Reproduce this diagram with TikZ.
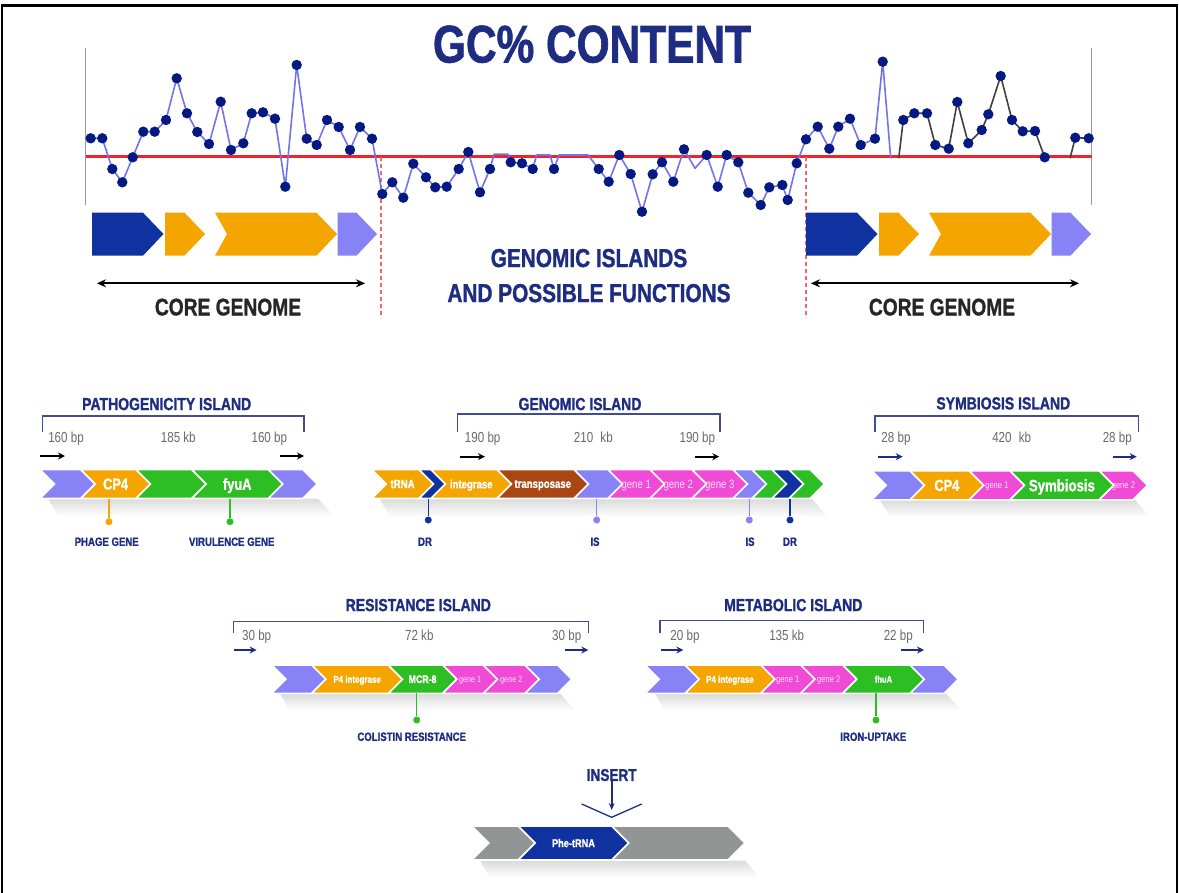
\documentclass[tikz,border=0pt]{standalone}
\usepackage{fontspec}
\setmainfont{Liberation Sans}[FakeStretch=0.8, BoldFeatures={FakeBold=1.2}]
\usetikzlibrary{arrows.meta}

\definecolor{navy}{RGB}{30,45,130}
\definecolor{deepblue}{RGB}{15,50,160}
\definecolor{amber}{RGB}{245,165,0}
\definecolor{lilac}{RGB}{135,130,245}
\definecolor{leaf}{RGB}{45,190,35}
\definecolor{pink}{RGB}{240,75,215}
\definecolor{rust}{RGB}{170,70,20}
\definecolor{slate}{RGB}{145,150,148}
\definecolor{gcred}{RGB}{240,35,40}
\definecolor{gcline}{RGB}{115,115,235}
\definecolor{gcdot}{RGB}{5,25,130}
\definecolor{bpgray}{RGB}{105,105,105}

\newcommand{\fsz}[1]{\fontsize{#1}{#1}\selectfont}

\tikzset{
  txt/.style={inner sep=0pt, text depth=0pt},
  genetxt/.style={txt, text=white, font=\bfseries\fsz{12}},
  genelight/.style={text=white!82!pink, font=\fsz{#1}},
  islandtitle/.style={txt, text=navy, font=\bfseries\fsz{17.5}},
  bptxt/.style={txt, text=bpgray, font=\fsz{14.5}},
  pintxt/.style={txt, text=navy, font=\bfseries\fsz{12}},
  bracket/.style={navy!85, line width=1.3pt},
  repeatarrow/.style={-{Stealth[length=7pt,width=7pt]}, line width=2pt},
  pinline/.style={#1, line width=1.5pt},
  pindot/.style={circle, fill=#1, inner sep=0pt, minimum size=7pt},
  shadowband/.style={top color=black!14, bottom color=white},
}

% half height of the gene arrows in the current row
\def\hh{14.5}
% gene arrow: [text style] name, colour, left x, body end x, mid y, label
\newcommand{\gene}[7][]{%
  \fill[#3, draw=white, line width=1.6pt] (#4,#6-\hh) -- (#5,#6-\hh) -- (#5+\hh,#6)
    -- (#5,#6+\hh) -- (#4,#6+\hh) -- (#4+\hh,#6) -- cycle;
  \node[genetxt,#1] (#2) at ({(#4+#5+\hh)/2},#6) {#7};}

\begin{document}
\begin{tikzpicture}[x=1pt,y=-1pt]
\useasboundingbox (0,0) rectangle (1179,893);
% frame
\draw[line width=2.5pt] (2,893) -- (2,5.5) -- (1177,5.5) -- (1177,893);

% GC plot
\node[txt, text=navy, font=\bfseries\fsz{53}] (gc-title) at (592,44) {GC\% CONTENT};
\draw[black!40, line width=1.5pt] (85.7,48) -- (85.7,205);
\draw[black!40, line width=1.5pt] (1091.7,48) -- (1091.7,205);
\draw[gcred, line width=3pt] (85.7,157) -- (1091.7,157);
\draw[gcred!70!white, line width=1.2pt, dash pattern=on 4pt off 3pt] (381,157) -- (381,318);
\draw[gcred!70!white, line width=1.2pt, dash pattern=on 4pt off 3pt] (806,157) -- (806,318);

\draw[gcline, line width=1.6pt, line join=round] plot coordinates {
  (90.7,138.3) (102.3,138.3) (112.3,169) (122.3,182.3) (132.7,157.3) (143.3,131.7)
  (154.7,131.7) (166,120) (176.7,78.3) (187,113.3) (197.3,132) (209,144) (220.7,101.7)
  (231,150) (243.3,143.3) (251.7,113.3) (263,112.3) (275,118.7) (285.3,186.7) (296.7,65)
  (306.7,138.7) (316.7,145) (327,120) (338.7,127) (350,150) (360,127) (372,138.7)
  (382.3,194) (392.3,182.3) (403.3,197.7) (413.3,163.7) (426,177.3) (435.3,187.3)
  (446.7,186.7) (458.7,169) (468.3,152) (480,192.3) (490,169) (494,154.3) (508.3,154.3)
  (510.7,162.3) (522,163.3) (532.7,169) (536.7,155) (550,155) (554,169) (559,155)
  (588,155) (598.7,169) (608.7,181.7) (619.3,155) (630.7,174) (642,211.7) (652.7,174.3)
  (662,162.3) (673.3,181.7) (684,149.3) (695,168.3) (706.7,155) (717.7,186.7) (726.7,155)
  (738.3,162.3) (748.3,192.7) (760.7,205) (769.3,187.3) (782.3,185) (787.7,200)
  (796.7,163.3) (806,139.3) (817.7,126.7) (829.3,148.7) (838.3,126.7) (850,118.7)
  (860.7,145) (875,138.7) (882.7,61.7) (890.7,158.3)};
\draw[black!75, line width=1.6pt, line join=round] plot coordinates {
  (898.7,158.3) (903.3,120) (914.3,113.3) (927,113.3) (935.3,145) (948.7,148.7)
  (957.3,102) (968.3,143.3) (981.7,130) (988.3,114.3) (1000.7,76) (1012,120)
  (1022.7,131.3) (1035,131) (1044.7,157.3)};
\draw[black!75, line width=1.6pt, line join=round] plot coordinates {
  (1070,158.3) (1075.3,137.7) (1088.7,138.3)};

\foreach \x/\y in {90.7/138.3, 102.3/138.3, 112.3/169, 122.3/182.3, 132.7/157.3,
  143.3/131.7, 154.7/131.7, 166/120, 176.7/78.3, 187/113.3, 197.3/132, 209/144,
  220.7/101.7, 231/150, 243.3/143.3, 251.7/113.3, 263/112.3, 275/118.7, 285.3/186.7,
  296.7/65, 306.7/138.7, 316.7/145, 327/120, 338.7/127, 350/150, 360/127, 372/138.7,
  382.3/194, 392.3/182.3, 403.3/197.7, 413.3/163.7, 426/177.3, 435.3/187.3,
  446.7/186.7, 458.7/169, 468.3/152, 480/192.3, 490/169, 510.7/162.3, 522/163.3,
  532.7/169, 554/169, 598.7/169, 608.7/181.7, 619.3/155, 630.7/174, 642/211.7,
  652.7/174.3, 662/162.3, 673.3/181.7, 684/149.3, 706.7/155, 717.7/186.7, 726.7/155,
  738.3/162.3, 748.3/192.7, 760.7/205, 769.3/187.3, 782.3/185, 787.7/200, 796.7/163.3,
  806/139.3, 817.7/126.7, 829.3/148.7, 838.3/126.7, 850/118.7, 860.7/145, 875/138.7,
  882.7/61.7, 903.3/120, 914.3/113.3, 927/113.3, 935.3/145, 948.7/148.7, 957.3/102,
  968.3/143.3, 981.7/130, 988.3/114.3, 1000.7/76, 1012/120, 1022.7/131.3, 1035/131,
  1044.7/157.3, 1075.3/137.7, 1088.7/138.3}
  \fill[gcdot] (\x,\y) circle (5.2);

% core genome on both sides
\foreach \dx/\side in {0/left,714/right}{
  \begin{scope}[xshift=\dx pt]
    \fill[deepblue] (92,212.7) -- (143,212.7) -- (163.5,234) -- (143,255.7) -- (92,255.7) -- cycle;
    \fill[amber] (165,212.7) -- (184.5,212.7) -- (205,234) -- (184.5,255.7) -- (165,255.7) -- cycle;
    \fill[amber] (215,212.7) -- (316.5,212.7) -- (337,234) -- (316.5,255.7) -- (215,255.7) -- (227,234) -- cycle;
    \fill[lilac] (337.5,212.7) -- (356.5,212.7) -- (377,234) -- (356.5,255.7) -- (337.5,255.7) -- cycle;
    \coordinate (core-\side-a) at (97,283.3);
    \coordinate (core-\side-b) at (365,283.3);
    \draw[{Stealth[length=9pt,width=8pt]}-{Stealth[length=9pt,width=8pt]}, line width=1.6pt] (core-\side-a) -- (core-\side-b);
    \node[txt, text=black!85, font=\bfseries\fsz{24}] (core-\side) at (228,307) {CORE GENOME};
  \end{scope}
}
\node[txt, text=navy, font=\bfseries\fsz{26}] (gi-head) at (589,258) {GENOMIC ISLANDS};
\node[txt, text=navy, font=\bfseries\fsz{26}] (gi-sub) at (589,293) {AND POSSIBLE FUNCTIONS};

% pathogenicity island
\node[islandtitle] (path-title) at (166.7,404) {PATHOGENICITY ISLAND};
\draw[bracket] (42.3,431.7) -- (42.3,416) -- (304,416) -- (304,431.7);
\node[bptxt] (path-l) at (66,437.7) {160 bp};
\node[bptxt] (path-m) at (178.3,437.7) {185 kb};
\node[bptxt] (path-r) at (269.3,437.7) {160 bp};
\draw[repeatarrow] (40,456) -- (65,456);
\draw[repeatarrow] (280,456) -- (304,456);
\shade[shadowband] (48,498.5) -- (318,498.5) -- (334,516) -- (58,516) -- cycle;
\def\hh{14.5}
\gene{path-1}{lilac}{40}{80.7}{484}{}
\gene[font=\bfseries\fsz{16}]{path-cp4}{amber}{80.7}{136}{484}{CP4}
\gene{path-3}{leaf}{136}{191.7}{484}{}
\gene[font=\bfseries\fsz{16}]{path-fyua}{leaf}{191.7}{268.3}{484}{fyuA}
\gene{path-5}{lilac}{268.3}{302.7}{484}{}

% genomic island
\node[islandtitle] (gen-title) at (580,404) {GENOMIC ISLAND};
\draw[bracket] (457.3,431.7) -- (457.3,414) -- (720,414) -- (720,431.7);
\node[bptxt] (gen-l) at (482.7,437.7) {190 bp};
\node[bptxt] (gen-m) at (593.3,437.7) {210\enspace kb};
\node[bptxt] (gen-r) at (697.3,437.7) {190 bp};
\draw[repeatarrow] (460,456.7) -- (485,456.7);
\draw[repeatarrow] (695,456.7) -- (719.3,456.7);
\shade[shadowband] (380,499) -- (812,499) -- (828,517) -- (390,517) -- cycle;
\gene{gen-trna}{amber}{371.7}{419}{484}{tRNA}
\gene{gen-2}{deepblue}{419}{431}{484}{}
\gene{gen-int}{amber}{431}{497}{484}{integrase}
\gene{gen-tra}{rust}{497}{574}{484}{transposase}
\gene{gen-5}{lilac}{574}{608}{484}{}
\gene[genelight=12]{gen-g1}{pink}{608}{650}{484}{gene 1}
\gene[genelight=12]{gen-g2}{pink}{650}{692}{484}{gene 2}
\gene[genelight=12]{gen-g3}{pink}{692}{733}{484}{gene 3}
\gene{gen-9}{lilac}{733}{752}{484}{}
\gene{gen-10}{leaf}{752}{772}{484}{}
\gene{gen-11}{deepblue}{772}{789}{484}{}
\gene{gen-12}{leaf}{789}{810}{484}{}

% symbiosis island
\node[islandtitle] (sym-title) at (1003.3,403.3) {SYMBIOSIS ISLAND};
\draw[bracket] (875,431.7) -- (875,416) -- (1138.3,416) -- (1138.3,431.7);
\node[bptxt] (sym-l) at (896,437.7) {28 bp};
\node[bptxt] (sym-m) at (1011.7,437.7) {420\enspace kb};
\node[bptxt] (sym-r) at (1117.3,437.7) {28 bp};
\draw[repeatarrow, navy] (878.3,456.7) -- (902.7,456.7);
\draw[repeatarrow, navy] (1113.3,456.7) -- (1136.7,456.7);
\shade[shadowband] (880,500) -- (1135,500) -- (1150,517) -- (890,517) -- cycle;
\gene{sym-1}{lilac}{871.7}{910}{485.3}{}
\gene[font=\bfseries\fsz{16}]{sym-cp4}{amber}{910}{969.3}{485.3}{CP4}
\gene[genelight=9.5]{sym-g1}{pink}{969.3}{1010}{485.3}{gene 1}
\gene[font=\bfseries\fsz{16.5}]{sym-sym}{leaf}{1010}{1099.3}{485.3}{Symbiosis}
\gene[genelight=9.5]{sym-g2}{pink}{1099.3}{1133}{485.3}{gene 2}

% resistance island
\node[islandtitle] (res-title) at (418.3,605) {RESISTANCE ISLAND};
\draw[bracket] (233.3,633.3) -- (233.3,621.7) -- (588.3,621.7) -- (588.3,633.3);
\node[bptxt] (res-l) at (256.7,635) {30 bp};
\node[bptxt] (res-m) at (419.3,635) {72 kb};
\node[bptxt] (res-r) at (566.7,635) {30 bp};
\draw[repeatarrow, navy] (234,650) -- (256.7,650);
\draw[repeatarrow, navy] (565,650) -- (588.3,650);
\shade[shadowband] (280,693.5) -- (560,693.5) -- (576,711) -- (290,711) -- cycle;
\def\hh{14.2}
\gene{res-1}{lilac}{271.7}{311.7}{679.2}{}
\gene[font=\bfseries\fsz{10}]{res-p4}{amber}{311.7}{388.3}{679.2}{P4 integrase}
\gene[font=\bfseries\fsz{11}]{res-mcr}{leaf}{388.3}{442.7}{679.2}{MCR-8}
\gene[genelight=9]{res-g1}{pink}{442.7}{483.3}{679.2}{gene 1}
\gene[genelight=9]{res-g2}{pink}{483.3}{525}{679.2}{gene 2}
\gene{res-6}{lilac}{525}{557.5}{679.2}{}

% metabolic island
\node[islandtitle] (met-title) at (793.3,605) {METABOLIC ISLAND};
\draw[bracket] (660,633.3) -- (660,620.7) -- (923.3,620.7) -- (923.3,633.3);
\node[bptxt] (met-l) at (685,635) {20 bp};
\node[bptxt] (met-m) at (786.7,635) {135 kb};
\node[bptxt] (met-r) at (898.3,635) {22 bp};
\draw[repeatarrow, navy] (660.7,650) -- (683.3,650);
\draw[repeatarrow, navy] (900.7,650) -- (924,650);
\shade[shadowband] (655,693.5) -- (946,693.5) -- (962,711) -- (665,711) -- cycle;
\gene{met-1}{lilac}{645}{685}{679.2}{}
\gene[font=\bfseries\fsz{10}]{met-p4}{amber}{685}{760.7}{679.2}{P4 integrase}
\gene[genelight=9.5]{met-g1}{pink}{760.7}{800.7}{679.2}{gene 1}
\gene[genelight=9.5]{met-g2}{pink}{800.7}{842.7}{679.2}{gene 2}
\gene[font=\bfseries\fsz{9.5}]{met-fhua}{leaf}{842.7}{910}{679.2}{fhuA}
\gene{met-6}{lilac}{910}{944}{679.2}{}

% insertion site
\node[txt, text=navy, font=\bfseries\fsz{17}] (insert) at (611.7,775) {INSERT};
\coordinate (insert-tip) at (611.7,810);
\draw[navy, line width=1.6pt, -{Stealth[length=7pt,width=6pt]}] (insert) -- (insert-tip);
\draw[navy, line width=1.3pt] (581.7,804) -- (611.7,817.3) -- (641.7,804);
\shade[shadowband] (480,860.5) -- (745,860.5) -- (760,878) -- (490,878) -- cycle;
\def\hh{17}
\gene{ins-1}{slate}{471.7}{518.3}{843}{}
\gene[font=\bfseries\fsz{11.5}]{ins-phe}{deepblue}{518.3}{611.7}{843}{Phe-tRNA}
\gene{ins-3}{slate}{611.7}{728}{843}{}

% pins under the gene arrows
\foreach \nm/\c/\x/\top/\dot/\lx/\ly/\lab in {
  phage/amber/109/498.5/521.7/106.7/541.7/PHAGE GENE,
  virulence/leaf/230/498.5/521.7/231.7/541.7/VIRULENCE GENE,
  dr-a/deepblue/428.3/498.5/520/425/541.7/DR,
  is-a/lilac/596.7/498.5/520/595/541.7/IS,
  is-b/lilac/749.3/498.5/520/750/541.7/IS,
  dr-b/deepblue/790/498.5/520/790/541.7/DR,
  colistin/leaf/416.7/693.4/720/411.7/736.7/COLISTIN RESISTANCE,
  iron/leaf/876/693.4/720/873.3/736.7/IRON-UPTAKE}{
  \coordinate (\nm-top) at (\x,\top);
  \node[pindot=\c] (\nm-dot) at (\x,\dot) {};
  \draw[pinline=\c] (\nm-top) -- (\nm-dot);
  \node[pintxt] (\nm) at (\lx,\ly) {\lab};
}
\end{tikzpicture}
\end{document}
